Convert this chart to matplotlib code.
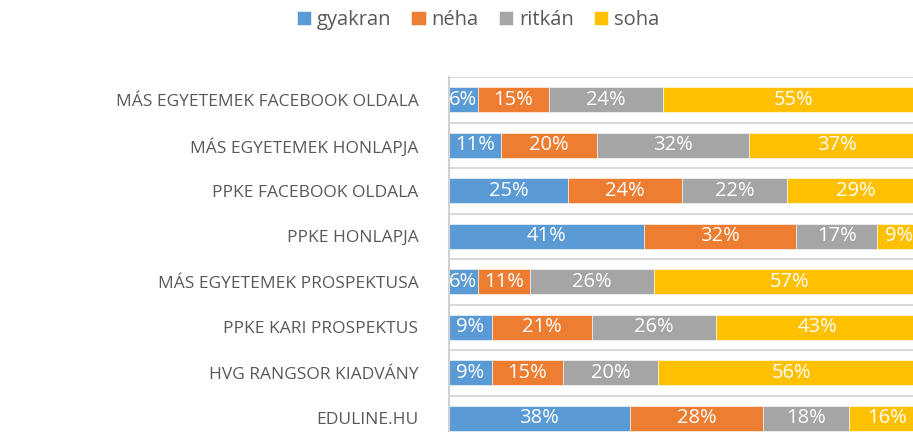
import matplotlib.pyplot as plt
import numpy as np

# adatok (felülről lefelé)
categories = [
    "MÁS EGYETEMEK FACEBOOK OLDALA",
    "MÁS EGYETEMEK HONLAPJA",
    "PPKE FACEBOOK OLDALA",
    "PPKE HONLAPJA",
    "MÁS EGYETEMEK PROSPEKTUSA",
    "PPKE KARI PROSPEKTUS",
    "HVG RANGSOR KIADVÁNY",
    "EDULINE.HU",
]
series_names = ["gyakran", "néha", "ritkán", "soha"]
gyakran = [6, 11, 25, 41, 6, 9, 9, 38]
neha = [15, 20, 24, 32, 11, 21, 15, 28]
ritkan = [24, 32, 22, 17, 26, 26, 20, 18]
soha = [55, 37, 29, 9, 57, 43, 56, 16]

colors = ["#5B9BD5", "#ED7D31", "#A5A5A5", "#FFC000"]
text_color = "#595959"

plt.rcParams["font.family"] = ["Open Sans", "DejaVu Sans"]

fig = plt.figure(figsize=(9.13, 4.32), dpi=100)
ax = fig.add_axes([449 / 913, -9 / 432, 464 / 913, 364 / 432])

y = np.arange(len(categories))
left = np.zeros(len(categories))
for name, vals, col in zip(series_names, [gyakran, neha, ritkan, soha], colors):
    vals = np.array(vals, dtype=float)
    ax.barh(y, vals, left=left, height=0.55, color=col, label=name,
            edgecolor="white", linewidth=0.4)
    for yi, l, v in zip(y, left, vals):
        ax.text(l + v / 2, yi, f"{int(v)}%", ha="center", va="center",
                color="white", fontsize=14.5, clip_on=False)
    left += vals

# elválasztó vonalak a kategóriák között
for k in range(len(categories) + 1):
    ax.axhline(k - 0.5, color="#D9D9D9", linewidth=1.5, zorder=0)

ax.set_xlim(0, 97.5)
ax.set_ylim(len(categories) - 0.5, -0.5)
ax.set_yticks(y)
ax.set_yticklabels(categories, fontsize=12.5, color=text_color)
ax.tick_params(axis="y", length=0, pad=22)
ax.set_xticks([])
for s in ["top", "right", "bottom"]:
    ax.spines[s].set_visible(False)
ax.spines["left"].set_color("#D0D0D0")
ax.spines["left"].set_linewidth(1.5)

fig.legend(loc="center", bbox_to_anchor=(478 / 913, 1 - 20 / 432), ncol=4,
           frameon=False, fontsize=14.5, handlelength=0.7, handleheight=0.7,
           handletextpad=0.3, columnspacing=1.0, labelcolor=text_color)

fig.savefig("out.png", dpi=100)
